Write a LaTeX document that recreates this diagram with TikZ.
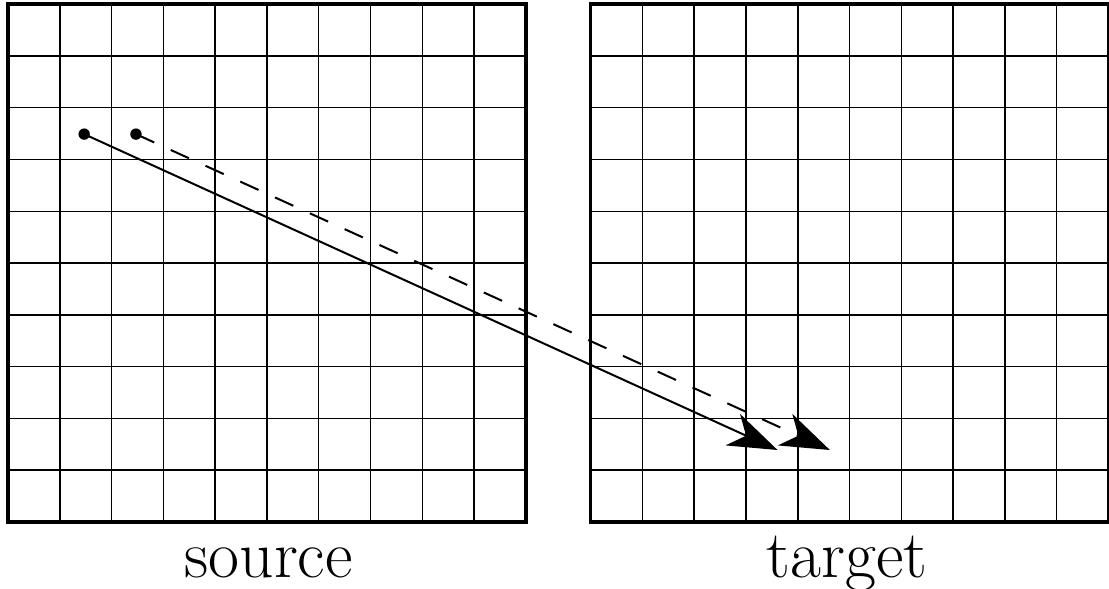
\documentclass[tikz,border=0pt]{standalone}
\usetikzlibrary{arrows.meta}
\tikzset{
  cell/.style={line width=0.8pt},
  frame/.style={line width=2pt},
  dot/.style={circle, fill, inner sep=0pt, minimum size=0.22cm},
  move/.style={line width=1.1pt, -{Stealth[length=27pt, width=19pt, inset=8pt]}},
  lbl/.style={anchor=base, font=\fontsize{37}{44}\selectfont},
}
\begin{document}
\begin{tikzpicture}
    \useasboundingbox (-0.155,-1.29) rectangle (21.26,10.08);
    % ── source ───────────────────────────────────────────
    \begin{scope}
        \draw[cell] (0,0) grid (10,10);
        \draw[frame] (0,0) rectangle (10,10);
        \node[lbl] (src) at (5.03,-1.08) {source};
        \node[dot] (p1) at (1.47,7.49) {};
        \node[dot] (p2) at (2.47,7.49) {};
    \end{scope}
    % ── target ───────────────────────────────────────────
    \begin{scope}[xshift=11.25cm]
        \draw[cell] (0,0) grid (10,10);
        \draw[frame] (0,0) rectangle (10,10);
        \node[lbl] (tgt) at (4.95,-1.08) {target};
        \coordinate (q1) at (3.61,1.39);
        \coordinate (q2) at (4.62,1.39);
    \end{scope}
    % displacement
    \draw[move] (p1.center) -- (q1);
    \draw[move, dash pattern=on 11pt off 10pt] (p2.center) -- (q2);
\end{tikzpicture}
\end{document}
